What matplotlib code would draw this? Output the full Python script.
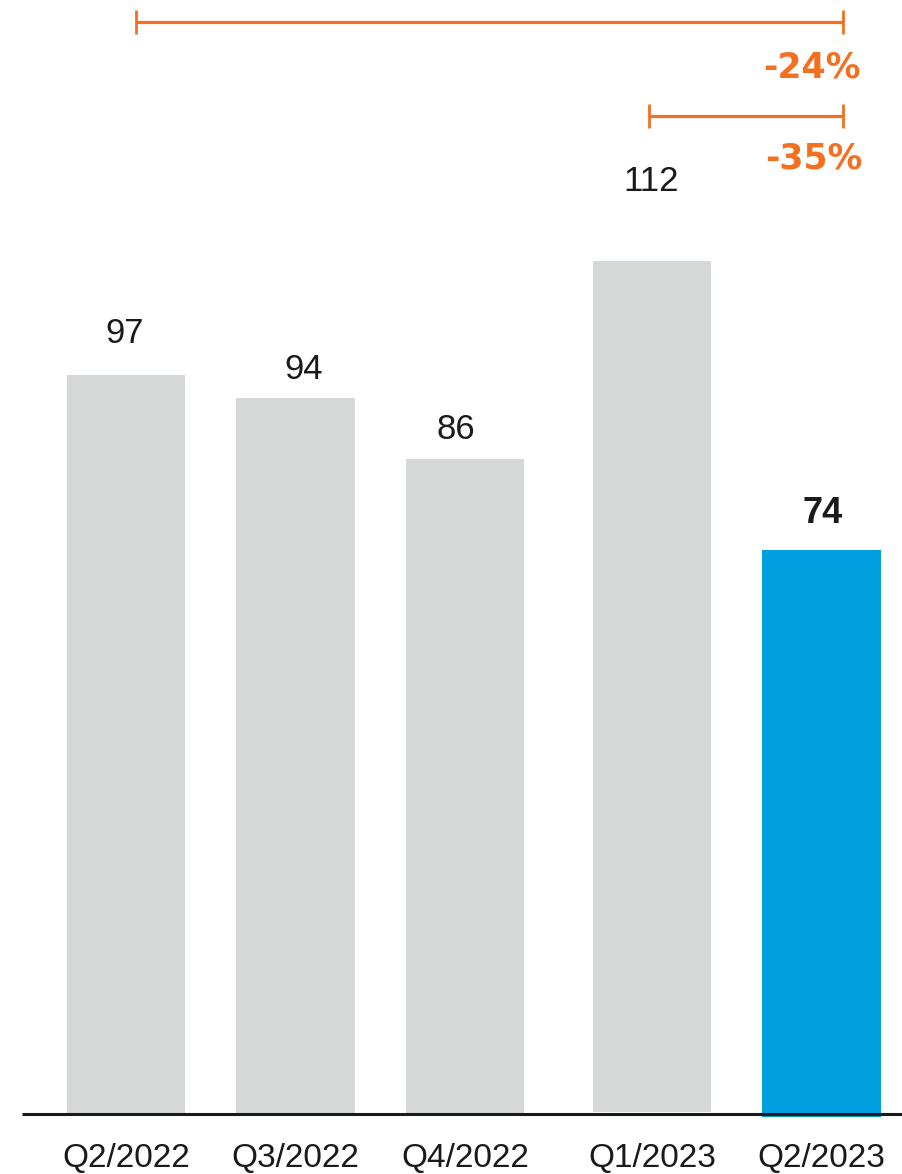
import matplotlib
matplotlib.use("Agg")
import matplotlib.pyplot as plt

# Quarterly values
quarters = ["Q2/2022", "Q3/2022", "Q4/2022", "Q1/2023", "Q2/2023"]
values = [97, 94, 86, 112, 74]
change_labels = ["-24%", "-35%"]

# Styling
GRAY = "#D6D7D7"
BLUE = "#009FDF"
ORANGE = "#F37021"
TEXT = "#1A1A1A"

FIG_W, FIG_H, DPI = 9.02, 11.74, 100
PX_PER_UNIT_Y = 7.62      # pixels per value unit
PX_PER_SLOT = 169.5       # pixels between neighbouring bar centres
BASE_PX = 1114            # baseline, pixels from the top
FIRST_CENTER_PX = 126

def px_y(p):
    return p / PX_PER_UNIT_Y

def px_x(p):
    return p / PX_PER_SLOT

gap = 0.103
positions = [0, 1, 2, 3 + gap, 4 + gap]
bar_width = 0.70
bar_colors = [GRAY, GRAY, GRAY, GRAY, BLUE]
bar_bottoms = [0, 0, 0, px_y(2.3), -px_y(2.7)]

# per-label placement: (x shift px, baseline gap above bar px)
label_shift = [(-1, 32), (8, 19), (-9, 20), (-1, 70), (1, 27)]

fig = plt.figure(figsize=(FIG_W, FIG_H), dpi=DPI)
bottom_frac = (FIG_H * DPI - BASE_PX) / (FIG_H * DPI)
ax = fig.add_axes([0, bottom_frac, 1, 1 - bottom_frac])
ax.set_xlim(-px_x(FIRST_CENTER_PX), px_x(FIG_W * DPI - FIRST_CENTER_PX))
ax.set_ylim(0, px_y(BASE_PX))
ax.axis("off")

for x, v, c, b in zip(positions, values, bar_colors, bar_bottoms):
    ax.bar(x, v - b, bottom=b, width=bar_width, color=c, zorder=2, clip_on=False)

# baseline
ax.plot([px_x(22 - FIRST_CENTER_PX), px_x(FIG_W * DPI - FIRST_CENTER_PX)], [0, 0],
        color=TEXT, lw=2.2, zorder=3, clip_on=False, solid_capstyle="butt")

# value labels
for i, (x, v) in enumerate(zip(positions, values)):
    dx, dy = label_shift[i]
    last = i == len(values) - 1
    ax.text(x + px_x(dx), v + px_y(dy), str(v),
            ha="center", va="baseline", fontsize=26 if last else 25,
            fontweight="bold" if last else "normal",
            family="Liberation Sans", color=TEXT, zorder=4)

# category labels
for x, q in zip(positions, quarters):
    ax.text(x, -px_y(53), q, ha="center", va="baseline", fontsize=24,
            family="Liberation Sans", color=TEXT, clip_on=False)

# change brackets
def bracket(x0, x1, y, half_h=px_y(12)):
    ax.plot([x0, x1], [y, y], color=ORANGE, lw=2.3, solid_capstyle="butt",
            clip_on=False)
    for xx in (x0, x1):
        ax.plot([xx, xx], [y - half_h, y + half_h], color=ORANGE, lw=2.0,
                solid_capstyle="butt", clip_on=False)

y_top = px_y(BASE_PX - 22)
y_mid = px_y(BASE_PX - 116)
right_end = positions[4] + px_x(22)
bracket(positions[0] + px_x(10), right_end, y_top)
bracket(positions[3] - px_x(3), right_end, y_mid)

ax.text(positions[4] + px_x(39), px_y(BASE_PX - 78), change_labels[0],
        ha="right", va="baseline", fontsize=25, fontweight="bold",
        family="DejaVu Sans", color=ORANGE)
ax.text(positions[4] + px_x(41), px_y(BASE_PX - 169), change_labels[1],
        ha="right", va="baseline", fontsize=25, fontweight="bold",
        family="DejaVu Sans", color=ORANGE)

fig.savefig("out.png", dpi=DPI, facecolor="white")
